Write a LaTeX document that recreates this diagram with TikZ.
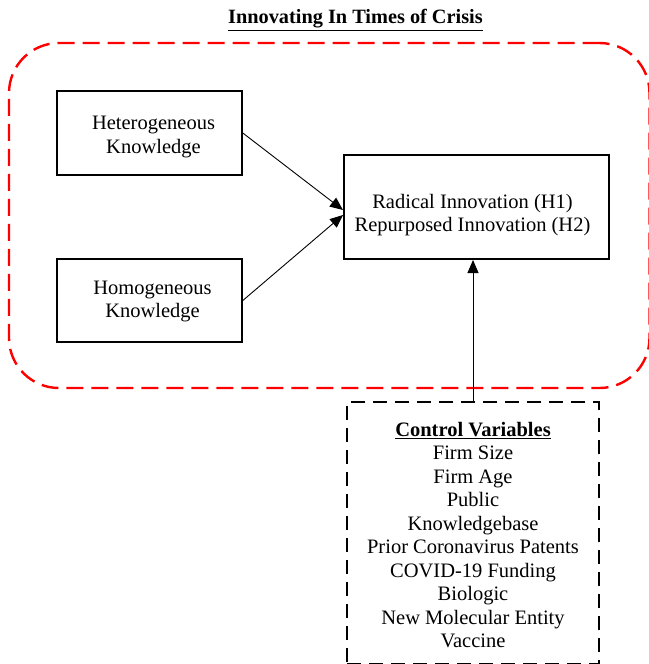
\documentclass[tikz,border=0pt]{standalone}
\usepackage{fontspec}
\setmainfont{Liberation Serif}
\usetikzlibrary{arrows.meta,positioning}
\begin{document}
\begin{tikzpicture}[x=1pt,y=-1pt,
  box/.style={draw,line width=1.6pt,rectangle,inner sep=0pt},
  txt/.style={align=center,inner sep=0pt,font=\fontsize{20.5}{23.5}\selectfont},
  arr/.style={line width=0.9pt,-{Triangle[length=13pt,width=11pt]}}]
\useasboundingbox (0,0) rectangle (648,664);
\node[font=\bfseries\fontsize{20.3}{22}\selectfont] (title) at (355.5,20) {\underline{Innovating In Times of Crisis}};
\node[draw=red,line width=2.4pt,dash pattern=on 17pt off 8pt,rounded corners=50pt,minimum width=640.5pt,minimum height=345pt,inner sep=0pt] (crisis) at (329.25,215.5) {};
\node[box,minimum width=185pt,minimum height=84pt] (het) at (149.5,133) {};
\node[txt] (hettxt) at (153.5,137) {Heterogeneous\\Knowledge};
\node[box,minimum width=185pt,minimum height=83pt] (hom) at (149.5,300.5) {};
\node[txt] (homtxt) at (152.5,301.5) {Homogeneous\\Knowledge};
\node[box,line width=2pt,minimum width=265pt,minimum height=104pt] (rad) at (476.5,207) {};
\node[txt] (radtxt) at (472.5,215) {Radical Innovation (H1)\\Repurposed Innovation (H2)};
\node[box,line width=2.4pt,dash pattern=on 14pt off 8pt,minimum width=252pt,minimum height=262pt,anchor=north] (ctrl) at (473,401) {};
\node[txt,anchor=north] (ctrltext) at (473,422) {\textbf{\underline{Control Variables}}\\Firm Size\\Firm Age\\Public\\Knowledgebase\\Prior Coronavirus Patents\\COVID-19 Funding\\Biologic\\New Molecular Entity\\Vaccine};
\draw[arr] (het.east) -- ([yshift=-3pt]rad.west);
\draw[arr] (hom.east) -- ([yshift=-8pt]rad.west);
\draw[arr] (ctrl.north) -- (ctrl.north |- rad.south);
\end{tikzpicture}
\end{document}
